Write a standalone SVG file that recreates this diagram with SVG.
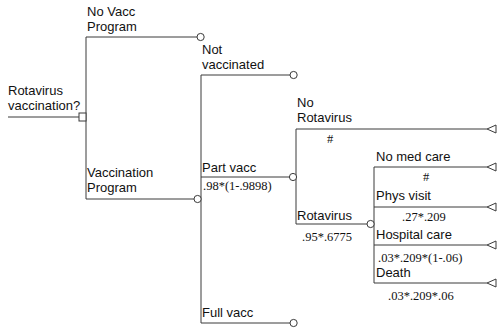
<svg xmlns="http://www.w3.org/2000/svg" width="500" height="329" viewBox="0 0 500 329">
  <defs>
    <style>
      .ln { stroke: #3a3a3a; stroke-width: 1; fill: none; }
      .chance { stroke: #3a3a3a; stroke-width: 1; fill: #fff; }
      .term { stroke: #3a3a3a; stroke-width: 1; fill: #fff; }
      .lbl { font-family: "Liberation Sans", Arial, sans-serif; font-size: 13px; fill: #111; }
      .prob { font-family: "Liberation Serif", "Times New Roman", serif; font-size: 12.5px; fill: #111; }
    </style>
    <circle id="chanceNode" r="3.6" class="chance"/>
    <path id="terminal" d="M-5,0 L4,-4 L4,4 Z" class="term"/>
  </defs>
  <rect width="500" height="329" fill="#fff"/>

  <!-- connectors: branch lines of the tree -->
  <g id="connectors">
    <path class="ln" d="M8,117 H79"/>
    <path class="ln" d="M86,37 V199"/>
    <path class="ln" d="M86,37 H197"/>
    <path class="ln" d="M86,199 H194"/>
    <path class="ln" d="M201,75 V323"/>
    <path class="ln" d="M201,75 H290"/>
    <path class="ln" d="M201,177 H290"/>
    <path class="ln" d="M201,323 H290"/>
    <path class="ln" d="M296,129 V224"/>
    <path class="ln" d="M296,129 H487"/>
    <path class="ln" d="M296,224 H367"/>
    <path class="ln" d="M374,167 V283"/>
    <path class="ln" d="M374,167 H487"/>
    <path class="ln" d="M374,207 H487"/>
    <path class="ln" d="M374,245 H487"/>
    <path class="ln" d="M374,283 H487"/>
  </g>

  <!-- decision node -->
  <g id="decision">
    <rect x="79" y="113" width="7" height="8" class="chance"/>
    <text class="lbl" x="8" y="95">Rotavirus</text>
    <text class="lbl" x="8" y="110">vaccination?</text>
  </g>

  <g id="no-vacc-program">
    <text class="lbl" x="87" y="16">No Vacc</text>
    <text class="lbl" x="87" y="31">Program</text>
    <use href="#chanceNode" x="200.6" y="37"/>
  </g>

  <g id="vaccination-program">
    <text class="lbl" x="87" y="177">Vaccination</text>
    <text class="lbl" x="87" y="192">Program</text>
    <use href="#chanceNode" x="197.6" y="199"/>
  </g>

  <g id="not-vaccinated">
    <text class="lbl" x="202" y="54">Not</text>
    <text class="lbl" x="202" y="69">vaccinated</text>
    <use href="#chanceNode" x="293.6" y="75"/>
  </g>

  <g id="part-vacc">
    <text class="lbl" x="202" y="172">Part vacc</text>
    <text class="prob" x="203" y="190">.98*(1-.9898)</text>
    <use href="#chanceNode" x="293" y="177"/>
  </g>

  <g id="full-vacc">
    <text class="lbl" x="202" y="317">Full vacc</text>
    <use href="#chanceNode" x="293.6" y="323"/>
  </g>

  <g id="no-rotavirus">
    <text class="lbl" x="297" y="107">No</text>
    <text class="lbl" x="297" y="122">Rotavirus</text>
    <text class="prob" x="327" y="143">#</text>
    <use href="#terminal" x="492" y="129"/>
  </g>

  <g id="rotavirus">
    <text class="lbl" x="297" y="220">Rotavirus</text>
    <text class="prob" x="302" y="241">.95*.6775</text>
    <use href="#chanceNode" x="370.6" y="224"/>
  </g>

  <g id="no-med-care">
    <text class="lbl" x="376" y="161">No med care</text>
    <text class="prob" x="423" y="181">#</text>
    <use href="#terminal" x="492" y="167"/>
  </g>

  <g id="phys-visit">
    <text class="lbl" x="376" y="200">Phys visit</text>
    <text class="prob" x="402" y="221">.27*.209</text>
    <use href="#terminal" x="492" y="207"/>
  </g>

  <g id="hospital-care">
    <text class="lbl" x="376" y="239">Hospital care</text>
    <text class="prob" x="378" y="262">.03*.209*(1-.06)</text>
    <use href="#terminal" x="492" y="245"/>
  </g>

  <g id="death">
    <text class="lbl" x="376" y="277">Death</text>
    <text class="prob" x="388" y="300">.03*.209*.06</text>
    <use href="#terminal" x="492" y="283"/>
  </g>
</svg>
